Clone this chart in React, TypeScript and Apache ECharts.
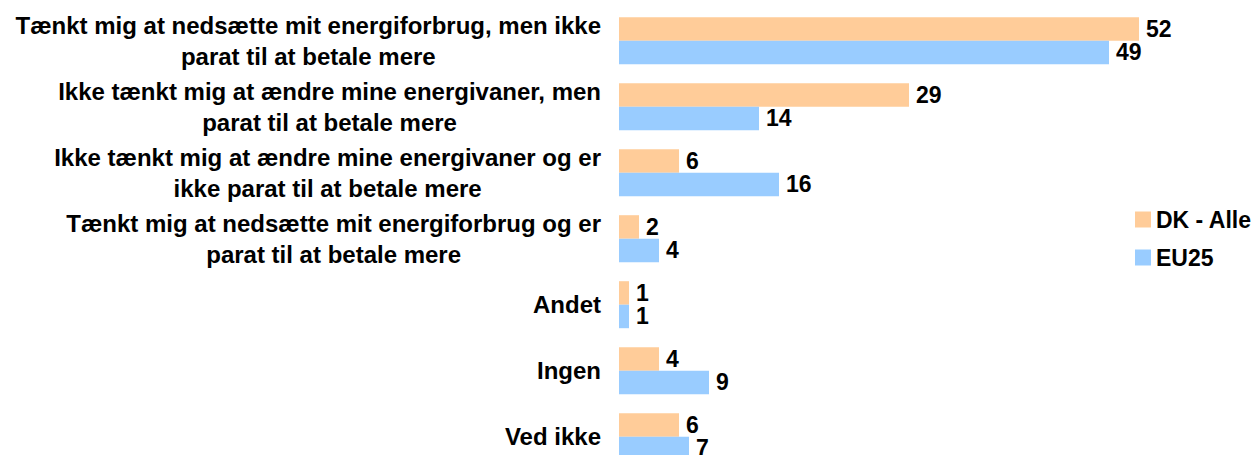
import React, { useEffect, useRef } from "react";
import * as echarts from "echarts";

const categories: string[] = [
  "Tænkt mig at nedsætte mit energiforbrug, men ikke\nparat til at betale mere",
  "Ikke tænkt mig at ændre mine energivaner, men\nparat til at betale mere",
  "Ikke tænkt mig at ændre mine energivaner og er\nikke parat til at betale mere",
  "Tænkt mig at nedsætte mit energiforbrug og er\nparat til at betale mere",
  "Andet",
  "Ingen",
  "Ved ikke",
];
const seriesNames: string[] = ["DK - Alle", "EU25"];
const dkValues: number[] = [52, 29, 6, 2, 1, 4, 6];
const euValues: number[] = [49, 14, 16, 4, 1, 9, 7];

const FONT = "'Liberation Sans', Arial, Helvetica, sans-serif";

export default function App() {
  const ref = useRef<HTMLDivElement>(null);
  useEffect(() => {
    if (!ref.current) return;
    const chart = echarts.init(ref.current, null, { renderer: "svg" });
    const labelStyle = {
      show: true,
      position: "right" as const,
      distance: 7,
      color: "#000",
      fontSize: 23,
      lineHeight: 22,
      fontWeight: "bold" as const,
      fontFamily: FONT,
    };
    chart.setOption({
      animation: false,
      backgroundColor: "#fff",
      legend: {
        orient: "vertical",
        left: 1130,
        top: 203,
        itemWidth: 16,
        itemHeight: 16,
        itemGap: 15,
        icon: "rect",
        data: seriesNames,
        textStyle: {
          color: "#000",
          fontSize: 23,
          fontWeight: "bold",
          fontFamily: FONT,
        },
      },
      grid: {
        left: 619,
        top: 7.7,
        width: 600,
        height: 462,
        containLabel: false,
        outerBoundsMode: "none",
      },
      xAxis: {
        type: "value",
        min: 0,
        max: 60,
        show: false,
      },
      yAxis: {
        type: "category",
        inverse: true,
        data: categories,
        axisLine: { show: false },
        axisTick: { show: false },
        splitLine: { show: false },
        axisLabel: {
          margin: 18,
          align: "right",
          formatter: (v: string) =>
            v
              .split("\n")
              .map((l) => `{c|${l}}`)
              .join("\n"),
          rich: {
            c: {
              align: "center",
              fontSize: 24,
              fontWeight: "bold",
              fontFamily: FONT,
              color: "#000",
              lineHeight: 31,
            },
          },
        },
      },
      series: [
        {
          name: seriesNames[0],
          type: "bar",
          data: dkValues,
          barWidth: 23.5,
          barGap: "0%",
          itemStyle: { color: "#FFCC99" },
          label: labelStyle,
        },
        {
          name: seriesNames[1],
          type: "bar",
          data: euValues,
          barWidth: 23.5,
          barGap: "0%",
          itemStyle: { color: "#99CCFF" },
          label: labelStyle,
        },
      ],
    });
    return () => chart.dispose();
  }, []);
  return (
    <div
      ref={ref}
      style={{ position: "fixed", left: 0, top: 0, width: 1252, height: 455 }}
    />
  );
}
